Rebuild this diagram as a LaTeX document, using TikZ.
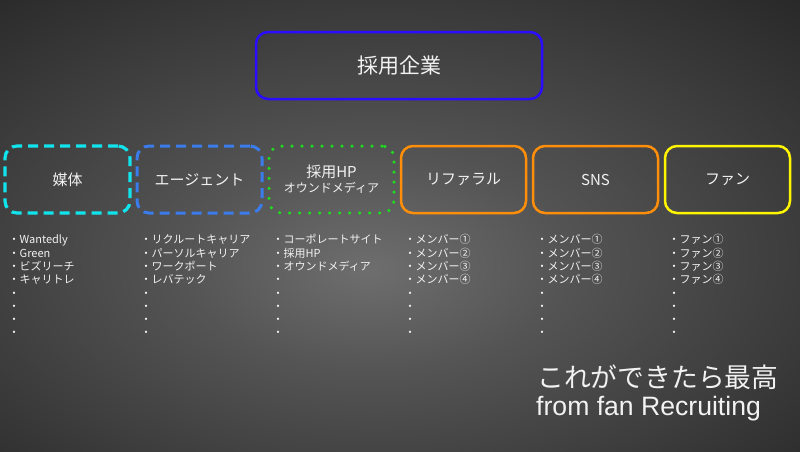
\documentclass[tikz,border=0pt]{standalone}
\usepackage{fontspec}
\usepackage{xcolor}
\usepackage{tikz}
\setmainfont{Noto Sans CJK JP}
\newfontfamily\latinfont{Liberation Sans}

\definecolor{bgin}{HTML}{6E6E6E}
\definecolor{bgout}{HTML}{181818}
\definecolor{txt}{HTML}{F2F2F2}
\definecolor{corpblue}{HTML}{2A0CFF}
\definecolor{mediacyan}{HTML}{12E4EE}
\definecolor{agentblue}{HTML}{3A7CEC}
\definecolor{hpgreen}{HTML}{1EDC1E}
\definecolor{refor}{HTML}{FF8E0A}
\definecolor{fanyel}{HTML}{FFF500}
\pgfdeclareradialshading{bgshade}{\pgfpoint{-2bp}{-5bp}}{color(0bp)=(bgin); color(12bp)=(bgin!70!bgout); color(30bp)=(bgin!35!bgout); color(48bp)=(bgout); color(80bp)=(bgout)}

\begin{document}
\begin{tikzpicture}[x=1pt,y=-1pt,
  box/.style={draw,rounded corners=12pt,minimum width=125pt,minimum height=67pt,
    inner sep=0pt,text=txt,font=\fontsize{15}{18}\selectfont,align=center},
  item/.style={anchor=west,inner sep=0pt,text=txt,text height=0.88em,text depth=0.12em,
    font=\fontsize{11}{13}\selectfont}]
  \useasboundingbox (0,0) rectangle (800,451);
  \shade[shading=bgshade] (0,0) rectangle (800,451);

  \node[box,draw=corpblue,line width=2.5pt,minimum width=286pt,font=\fontsize{21}{24}\selectfont]
    (corp) at (399,65.5) {採用企業};

  \node[box,draw=mediacyan,line width=3.2pt,dash pattern=on 10pt off 6pt] (media) at (67.5,179.5) {媒体};
  \node[box,draw=agentblue,line width=3pt,dash pattern=on 10pt off 6pt] (agent) at (199.5,179.5) {エージェント};
  \node[box,draw=hpgreen,line width=3.5pt,line cap=round,dash pattern=on 0pt off 10pt] (hp) at (331.5,179.5)
    {採用HP\\[-3pt]{\fontsize{12}{14}\selectfont オウンドメディア}};
  \node[box,draw=refor,line width=2.5pt] (referral) at (463.5,179.5) {リファラル};
  \node[box,draw=refor,line width=2.5pt] (sns) at (595.5,179.5) {SNS};
  \node[box,draw=fanyel,line width=2.5pt] (fan) at (727.5,179.5) {ファン};

  \def\lists{
    {Wantedly,Green,ビズリーチ,キャリトレ,,,,},
    {リクルートキャリア,パーソルキャリア,ワークポート,レバテック,,,,},
    {コーポレートサイト,採用HP,オウンドメディア,,,,,},
    {メンバー①,メンバー②,メンバー③,メンバー④,,,,},
    {メンバー①,メンバー②,メンバー③,メンバー④,,,,},
    {ファン①,ファン②,ファン③,ファン④,,,,}}
  \foreach \row [count=\c from 0] in \lists {
    \foreach \v [count=\r from 0] in \row {
      \node[item] (item-\c-\r) at (8.5+132*\c,240+13.3*\r) {・\v};
    }
  }

  \node[anchor=base west,inner sep=0pt,text=txt,font=\fontsize{26.8}{30}\selectfont]
    (best) at (537,387) {これができたら最高};
  \node[anchor=base west,inner sep=0pt,text=txt,font=\latinfont\fontsize{26.6}{30}\selectfont]
    (slogan) at (536,415) {from fan Recruiting};
\end{tikzpicture}
\end{document}
